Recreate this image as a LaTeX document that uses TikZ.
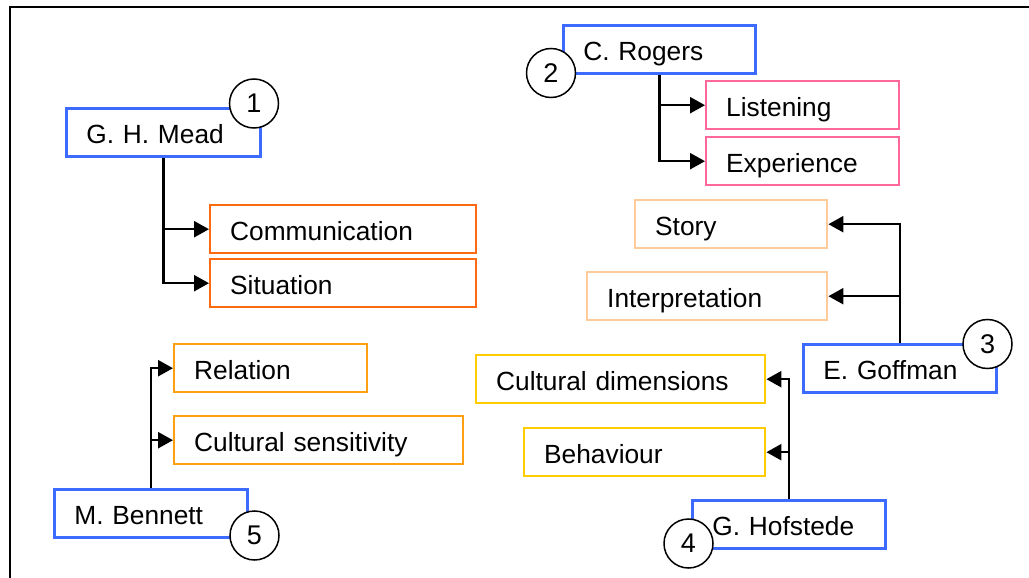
\documentclass[tikz,border=0pt]{standalone}
\usepackage{fontspec}
\setmainfont{Liberation Sans}
\usetikzlibrary{arrows.meta}
\definecolor{nblue}{HTML}{3D6BFF}
\definecolor{norange}{HTML}{FF6A10}
\definecolor{npink}{HTML}{FF6699}
\definecolor{npeach}{HTML}{FFCC99}
\definecolor{namber}{HTML}{FFA010}
\definecolor{nyellow}{HTML}{FFCC00}
\begin{document}
\begin{tikzpicture}[x=1pt,y=-1pt,
  box/.style={draw, rectangle, anchor=north west, inner xsep=20pt, inner ysep=0pt,
    align=left, text height=22pt, text depth=0pt, minimum height=48pt,
    line width=2.4pt, font=\fontsize{26.3}{30}\selectfont},
  person/.style={box, draw=nblue, line width=2.8pt},
  num/.style={circle, draw, fill=white, line width=1.5pt, minimum size=49pt,
    inner sep=0pt, font=\fontsize{27}{30}\selectfont},
  arr/.style={line width=2.4pt, -{Triangle[length=15pt,width=16pt]}}]
\useasboundingbox (0,0) rectangle (1029,578);
% frame
\draw[line width=2pt] (10,578) -- (10,7) -- (1029,7);

% 1 Mead
\node[person, minimum width=194pt, text width=154pt] (mead) at (65,107) {G. H. Mead};
\node[box, draw=norange, minimum width=266pt, text width=226pt] (comm) at (209,204) {Communication};
\node[box, draw=norange, minimum width=266pt, text width=226pt] (sit) at (209,258) {Situation};
\draw[arr] (mead.south) |- (comm.west);
\draw[arr] (mead.south) |- (sit.west);

% 2 Rogers
\node[person, minimum width=192pt, text width=152pt] (rogers) at (562,24) {C. Rogers};
\node[box, draw=npink, minimum width=193pt, text width=153pt] (listen) at (705,80) {Listening};
\node[box, draw=npink, minimum width=193pt, text width=153pt] (exper) at (705,136) {Experience};
\draw[arr] (rogers.south) |- (listen.west);
\draw[arr] (rogers.south) |- (exper.west);

% 3 Goffman
\node[box, draw=npeach, minimum width=192pt, text width=152pt] (story) at (634,199) {Story};
\node[box, draw=npeach, minimum width=240pt, text width=200pt] (interp) at (586,271) {Interpretation};
\node[person, minimum width=193pt, text width=153pt] (goffman) at (802,343) {E. Goffman};
\draw[arr] (goffman.north) |- (story.east);
\draw[arr] (goffman.north) |- (interp.east);

% 4 Hofstede
\node[box, draw=nyellow, minimum width=289pt, text width=249pt] (cultdim) at (475,354) {Cultural dimensions};
\node[box, draw=nyellow, minimum width=241pt, text width=201pt] (behav) at (523,427) {Behaviour};
\node[person, minimum width=193pt, text width=153pt] (hofstede) at (691,499) {G. Hofstede};
\draw[arr] (hofstede.north) |- (cultdim.east);
\draw[arr] (hofstede.north) |- (behav.east);

% 5 Bennett
\node[box, draw=namber, minimum width=193pt, text width=153pt] (relation) at (173,343) {Relation};
\node[box, draw=namber, minimum width=289pt, text width=249pt] (cultsens) at (173,415) {Cultural sensitivity};
\node[person, minimum width=193pt, text width=153pt] (bennett) at (53,488) {M. Bennett};
\draw[arr] (bennett.north) |- (relation.west);
\draw[arr] (bennett.north) |- (cultsens.west);

% number circles
\node[num] (n1) at (254,103.5) {1};
\node[num] (n2) at (551,73) {2};
\node[num] (n3) at (987.5,344) {3};
\node[num] (n4) at (688.5,543.5) {4};
\node[num] (n5) at (254.5,535.5) {5};
\end{tikzpicture}
\end{document}
